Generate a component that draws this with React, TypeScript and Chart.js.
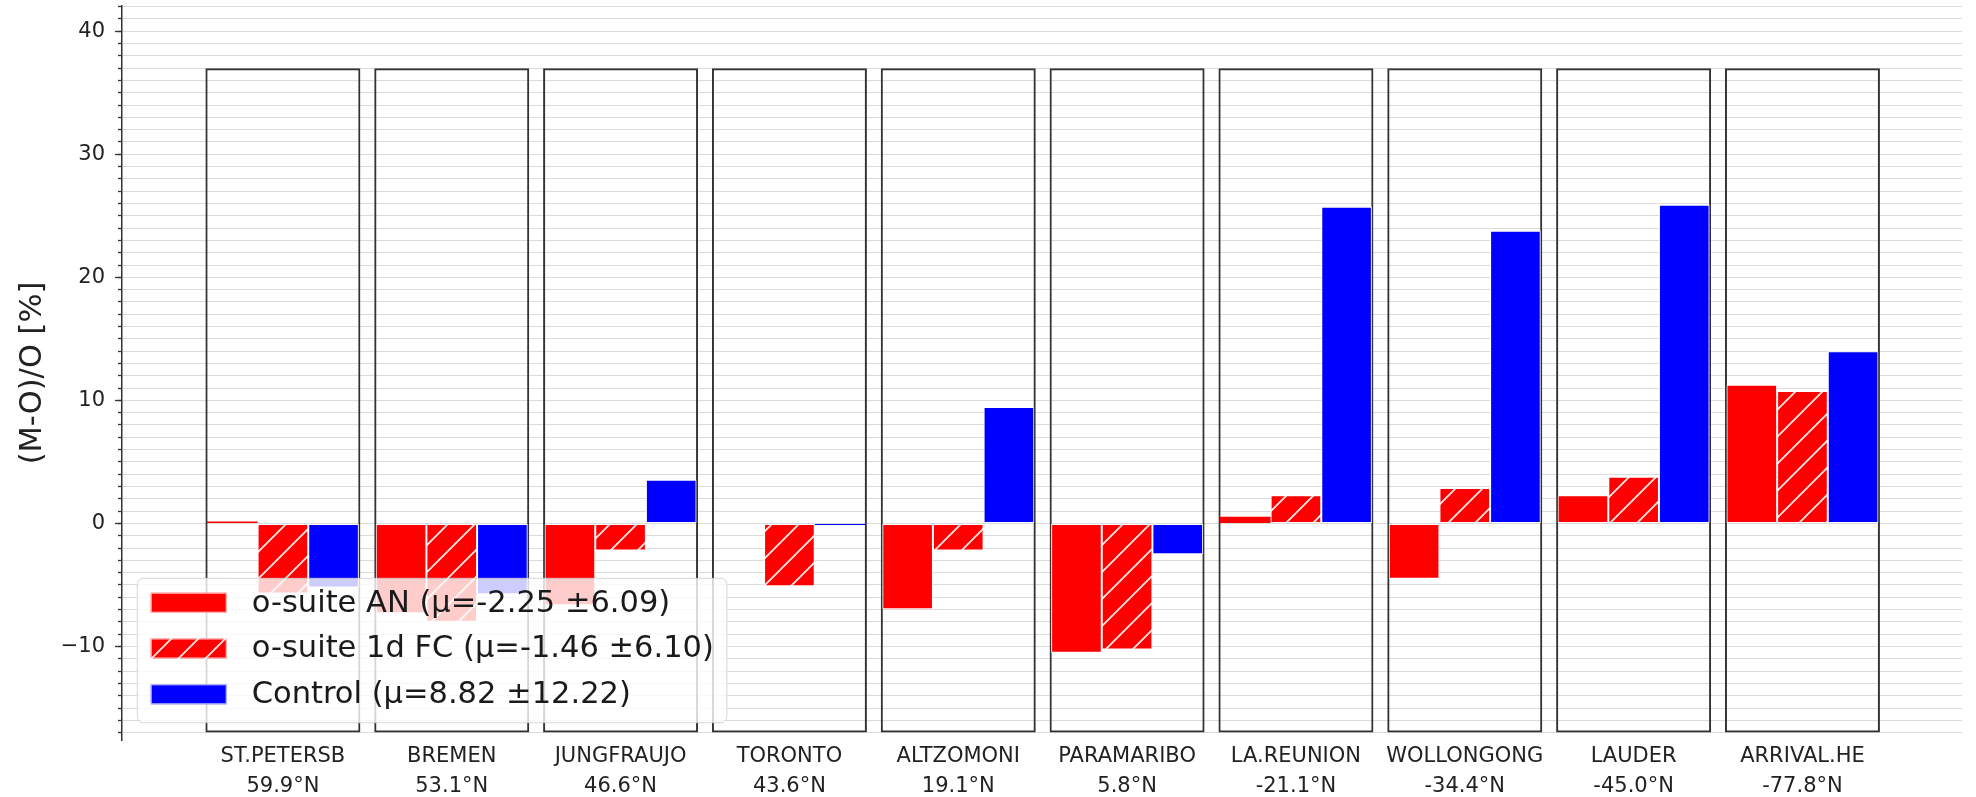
import React, { useEffect, useRef } from 'react';
import { Chart, registerables } from 'chart.js';

Chart.register(...registerables);

// Stations (ordered north to south) and their latitudes
const STATIONS = ['ST.PETERSB', 'BREMEN', 'JUNGFRAUJO', 'TORONTO', 'ALTZOMONI', 'PARAMARIBO', 'LA.REUNION', 'WOLLONGONG', 'LAUDER', 'ARRIVAL.HE'];
const LATITUDES = ['59.9°N', '53.1°N', '46.6°N', '43.6°N', '19.1°N', '5.8°N', '-21.1°N', '-34.4°N', '-45.0°N', '-77.8°N'];

// Relative bias (M-O)/O in percent per station
const OSUITE_AN = [0.15, -7.3, -6.65, null, -6.97, -10.5, 0.54, -4.5, 2.28, 11.26];
const OSUITE_FC = [-5.7, -8.0, -2.2, -5.1, -2.2, -10.25, 2.28, 2.87, 3.8, 10.77];
const CONTROL = [-5.2, -5.75, 3.55, -0.12, 9.46, -2.5, 25.73, 23.78, 25.89, 13.99];

const SERIES_LABELS = [
  'o-suite AN (μ=-2.25 ±6.09)',
  'o-suite 1d FC (μ=-1.46 ±6.10)',
  'Control (μ=8.82 ±12.22)',
];

// Outline drawn around every station group
const FRAME_RANGE = [-17, 37];

const Y_MIN = -17.6;
const Y_MAX = 42.05;
const X_MIN = -0.953;
const X_MAX = 9.945;

const FONT = '"DejaVu Sans", "Liberation Sans", sans-serif';
const TEXT = '#222222';

function makeHatch(fill: string): CanvasPattern | string {
  const s = 27;
  const c = document.createElement('canvas');
  c.width = s;
  c.height = s;
  const g = c.getContext('2d');
  if (!g) return fill;
  g.fillStyle = fill;
  g.fillRect(0, 0, s, s);
  g.strokeStyle = 'rgba(255,255,255,0.9)';
  g.lineWidth = 1.8;
  g.beginPath();
  g.moveTo(0, s);
  g.lineTo(s, 0);
  g.moveTo(-s / 2, s / 2);
  g.lineTo(s / 2, -s / 2);
  g.moveTo(s / 2, s * 1.5);
  g.lineTo(s * 1.5, s / 2);
  g.stroke();
  return g.createPattern(c, 'repeat') || fill;
}

const toPoints = (values: (number | null)[]) => values.map((v, i) => ({ x: i, y: v }));

// Longer marks for the labelled (major) y ticks, plus the framed legend
const overlayPlugin = {
  id: 'overlay',
  afterDraw(chart: any) {
    const ctx: CanvasRenderingContext2D = chart.ctx;
    const area = chart.chartArea;
    const yScale = chart.scales.y;

    ctx.save();
    ctx.strokeStyle = '#333';
    ctx.lineWidth = 1.3;
    for (let v = Math.ceil(yScale.min / 10) * 10; v <= yScale.max; v += 10) {
      const py = Math.round(yScale.getPixelForValue(v)) + 0.5;
      ctx.beginPath();
      ctx.moveTo(area.left - 7, py);
      ctx.lineTo(area.left, py);
      ctx.stroke();
    }
    ctx.restore();

    const items = chart.data.datasets.slice(0, 3);
    ctx.save();
    ctx.font = `30.5px ${FONT}`;
    const maxW = Math.max(...items.map((d: any) => ctx.measureText(d.label).width));
    const boxL = area.left + 15.3;
    const boxT = 578.3;
    const boxB = 722.7;
    const swatchX = boxL + 13.4;
    const textX = swatchX + 101;
    const boxR = textX + maxW + 13;
    const rowY0 = 602.7;
    const rowGap = 45.8;

    ctx.beginPath();
    ctx.roundRect(boxL, boxT, boxR - boxL, boxB - boxT, 6);
    ctx.fillStyle = 'rgba(255,255,255,0.8)';
    ctx.fill();
    ctx.strokeStyle = 'rgba(204,204,204,0.8)';
    ctx.lineWidth = 1;
    ctx.stroke();

    items.forEach((d: any, i: number) => {
      const cy = rowY0 + i * rowGap;
      ctx.fillStyle = d.backgroundColor;
      ctx.fillRect(swatchX, cy - 10, 76, 20);
      ctx.strokeStyle = 'rgba(255,255,255,0.8)';
      ctx.lineWidth = 1;
      ctx.strokeRect(swatchX + 0.5, cy - 9.5, 75, 19);
      ctx.fillStyle = '#1a1a1a';
      ctx.textBaseline = 'middle';
      ctx.textAlign = 'left';
      ctx.fillText(d.label, textX, cy + 1);
    });
    ctx.restore();
  },
};

export default function App() {
  const ref = useRef<HTMLCanvasElement>(null);

  useEffect(() => {
    const canvas = ref.current;
    if (!canvas) return;
    const hatch = makeHatch('#ff0000');

    const barStyle = {
      borderColor: 'rgba(255,255,255,0.85)',
      // very short bars keep their fill visible as a thin line
      borderWidth: (c: any) => {
        const v = c.raw && typeof c.raw.y === 'number' ? Math.abs(c.raw.y) : 0;
        return v < 0.6 ? 0 : 1;
      },
      borderSkipped: false,
      categoryPercentage: 0.9,
      barPercentage: 1,
      order: 0,
    };

    const chart = new Chart(canvas, {
      type: 'bar',
      data: {
        datasets: [
          { label: SERIES_LABELS[0], data: toPoints(OSUITE_AN), backgroundColor: '#ff0000', ...barStyle },
          { label: SERIES_LABELS[1], data: toPoints(OSUITE_FC), backgroundColor: hatch, ...barStyle },
          { label: SERIES_LABELS[2], data: toPoints(CONTROL), backgroundColor: '#0000ff', ...barStyle },
          {
            label: 'frame',
            data: STATIONS.map((_, i) => ({ x: i, y: FRAME_RANGE })),
            grouped: false,
            categoryPercentage: 0.918,
            barPercentage: 1,
            backgroundColor: 'rgba(0,0,0,0)',
            borderColor: '#333333',
            borderWidth: 2,
            borderSkipped: false,
            order: 1,
          },
        ] as any,
      },
      options: {
        responsive: false,
        animation: false,
        events: [],
        layout: { padding: { left: 0, top: 6, right: 14, bottom: 0 } },
        plugins: {
          legend: { display: false },
          tooltip: { enabled: false },
        },
        scales: {
          x: {
            type: 'linear',
            min: X_MIN,
            max: X_MAX,
            offset: false,
            grid: { display: false, drawTicks: false },
            border: { display: false },
            afterBuildTicks: (s: any) => {
              s.ticks = STATIONS.map((_, i) => ({ value: i }));
            },
            afterFit: (s: any) => {
              s.height = 57;
              s.paddingLeft = 0;
              s.paddingRight = 0;
            },
            ticks: {
              autoSkip: false,
              maxRotation: 0,
              minRotation: 0,
              padding: 2,
              color: TEXT,
              font: { family: FONT, size: 21, lineHeight: 1.4 },
              callback: (v: any) => [STATIONS[v as number], LATITUDES[v as number]],
            },
          },
          y: {
            type: 'linear',
            min: Y_MIN,
            max: Y_MAX,
            z: 1,
            grid: {
              color: 'rgba(176,176,176,0.45)',
              lineWidth: 1,
              tickLength: 4,
              tickColor: '#333333',
              tickWidth: 1.3,
            },
            border: { display: true, color: '#333333', width: 1.5 },
            afterFit: (s: any) => {
              s.width = 122;
              s.paddingTop = 0;
              s.paddingBottom = 0;
            },
            ticks: {
              stepSize: 1,
              includeBounds: false,
              autoSkip: false,
              padding: 13,
              color: TEXT,
              font: { family: FONT, size: 21 },
              callback: (v: any) => {
                const n = Math.round(Number(v));
                if (n % 10 !== 0) return '';
                return n < 0 ? '\u2212' + Math.abs(n) : String(n);
              },
            },
            title: {
              display: true,
              text: '(M-O)/O [%]',
              color: TEXT,
              font: { family: FONT, size: 30.5 },
              padding: { top: 15, bottom: 0 },
            },
          },
        },
      } as any,
      plugins: [overlayPlugin],
    });

    return () => chart.destroy();
  }, []);

  return (
    <canvas
      ref={ref}
      width={1976}
      height={797}
      style={{ position: 'fixed', left: 0, top: 0, display: 'block', background: '#ffffff' }}
    />
  );
}
